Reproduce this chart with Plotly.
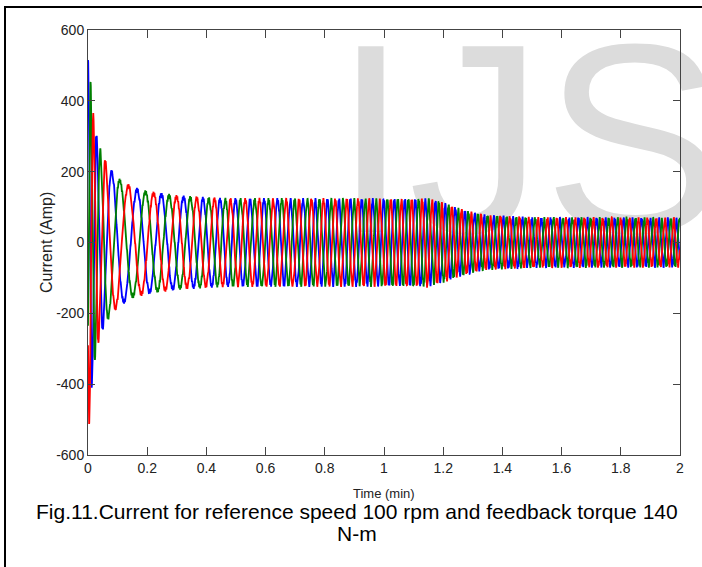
import numpy as np
import plotly.graph_objects as go

# ---- values ----
# amplitude envelope of the three phase currents (Amp) vs time (min)
env_t = [0.0, 0.005, 0.01, 0.02, 0.03, 0.045, 0.07, 0.1, 0.15, 0.2, 0.3, 0.45, 1.15, 1.2, 1.25, 1.3, 1.35, 1.5, 2.0]
env_a = [510, 480, 430, 350, 295, 250, 210, 178, 152, 140, 128, 120, 119, 108, 92, 80, 72, 66, 65]
# electrical frequency (cycles per min) vs time (min)
freq_t = [0.0, 0.01, 0.04, 0.075, 0.12, 0.3, 0.5, 0.8, 1.2, 2.0]
freq_f = [40, 37, 23, 13.5, 11, 13.5, 20, 25, 30, 34]
# early DC offsets per phase (Amp)
off_t = [0.0, 0.01, 0.03]
off_blue = [5, 0, 0]
off_green = [15, 8, 0]
off_red = [-30, -12, 0]
ripple_amp = 6          # switching ripple amplitude (Amp)
ripple_freq = 310       # ripple cycles per min

phase_names = ["Phase B", "Phase G", "Phase R"]
phase_colors = ["#0000ff", "#008000", "#ff0000"]
phase_shift_deg = [90, -30, 210]

x_ticks = [0, 0.2, 0.4, 0.6, 0.8, 1.0, 1.2, 1.4, 1.6, 1.8, 2.0]
x_ticktext = ["0", "0.2", "0.4", "0.6", "0.8", "1", "1.2", "1.4", "1.6", "1.8", "2"]
y_ticks = [-600, -400, -200, 0, 200, 400, 600]
y_ticktext = ["-600", "-400", "-200", "0", "200", "400", "600"]

x_title = "Time (min)"
y_title = "Current (Amp)"
caption_lines = ["Fig.11.Current for reference speed 100 rpm and feedback torque 140", "N-m"]
watermark = "IJS"

# ---- build waveforms from the read envelope ----
t = np.linspace(0, 2, 18000)
A = np.interp(t, env_t, env_a)
f = np.interp(t, freq_t, freq_f)
dt = t[1] - t[0]
ph = 2 * np.pi * np.concatenate([[0], np.cumsum(f[:-1] * dt)])
offsets = [off_blue, off_green, off_red]

sans = "Liberation Sans, Arial, sans-serif"

L, R, T, B = 88, 22, 30, 112
W, H = 702, 567
pw, ph_ = W - L - R, H - T - B


def px_to_paper_x(px):
    return (px - L) / pw


def px_to_paper_y(py):
    return (H - B - py) / ph_


fig = go.Figure()

# watermark (drawn first so that it lies under the curves)
fig.add_trace(go.Scatter(
    x=[0.829], y=[220], mode="text", text=[watermark], textposition="middle right",
    textfont=dict(family=sans, size=270, color="#dcdcdc"),
    cliponaxis=False, hoverinfo="skip", showlegend=False))

for k in range(3):
    y = A * np.sin(ph + np.deg2rad(phase_shift_deg[k])) + np.interp(t, off_t, offsets[k]) \
        + ripple_amp * np.sin(2 * np.pi * ripple_freq * t + 2.1 * k)
    fig.add_trace(go.Scatter(x=t, y=y, mode="lines", name=phase_names[k],
                             line=dict(color=phase_colors[k], width=1.8),
                             showlegend=False, hoverinfo="skip"))

annotations = [
    dict(text=x_title, x=px_to_paper_x(384), y=px_to_paper_y(493), xref="paper", yref="paper",
         xanchor="center", yanchor="middle", showarrow=False,
         font=dict(family=sans, size=13, color="#222222")),
    dict(text=y_title, x=px_to_paper_x(46), y=px_to_paper_y(243), xref="paper", yref="paper",
         xanchor="center", yanchor="middle", showarrow=False, textangle=-90,
         font=dict(family=sans, size=16, color="#222222")),
    dict(text=caption_lines[0], x=px_to_paper_x(357), y=px_to_paper_y(511), xref="paper", yref="paper",
         xanchor="center", yanchor="middle", showarrow=False,
         font=dict(family=sans, size=21, color="black")),
    dict(text=caption_lines[1], x=px_to_paper_x(357), y=px_to_paper_y(533), xref="paper", yref="paper",
         xanchor="center", yanchor="middle", showarrow=False,
         font=dict(family=sans, size=21, color="black")),
]

fig.update_layout(
    width=W, height=H,
    margin=dict(l=L, r=R, t=T, b=B, pad=0),
    paper_bgcolor="white", plot_bgcolor="rgba(0,0,0,0)",
    xaxis=dict(range=[0, 2], tickvals=x_ticks, ticktext=x_ticktext,
               showgrid=False, zeroline=False, showline=True, mirror="ticks",
               linecolor="#444444", linewidth=1, ticks="inside", ticklen=8,
               tickcolor="#444444", tickfont=dict(family=sans, size=14, color="#222222")),
    yaxis=dict(range=[-600, 600], tickvals=y_ticks, ticktext=y_ticktext,
               showgrid=False, zeroline=False, showline=True, mirror="ticks",
               linecolor="#444444", linewidth=1, ticks="inside", ticklen=7,
               tickcolor="#444444", tickfont=dict(family=sans, size=14, color="#222222")),
    annotations=annotations,
    shapes=[dict(type="rect", xref="paper", yref="paper",
                 x0=px_to_paper_x(5), x1=px_to_paper_x(720),
                 y0=px_to_paper_y(590), y1=px_to_paper_y(7),
                 line=dict(color="black", width=2), fillcolor="rgba(0,0,0,0)", layer="above")],
)

fig.write_html("out.html")
